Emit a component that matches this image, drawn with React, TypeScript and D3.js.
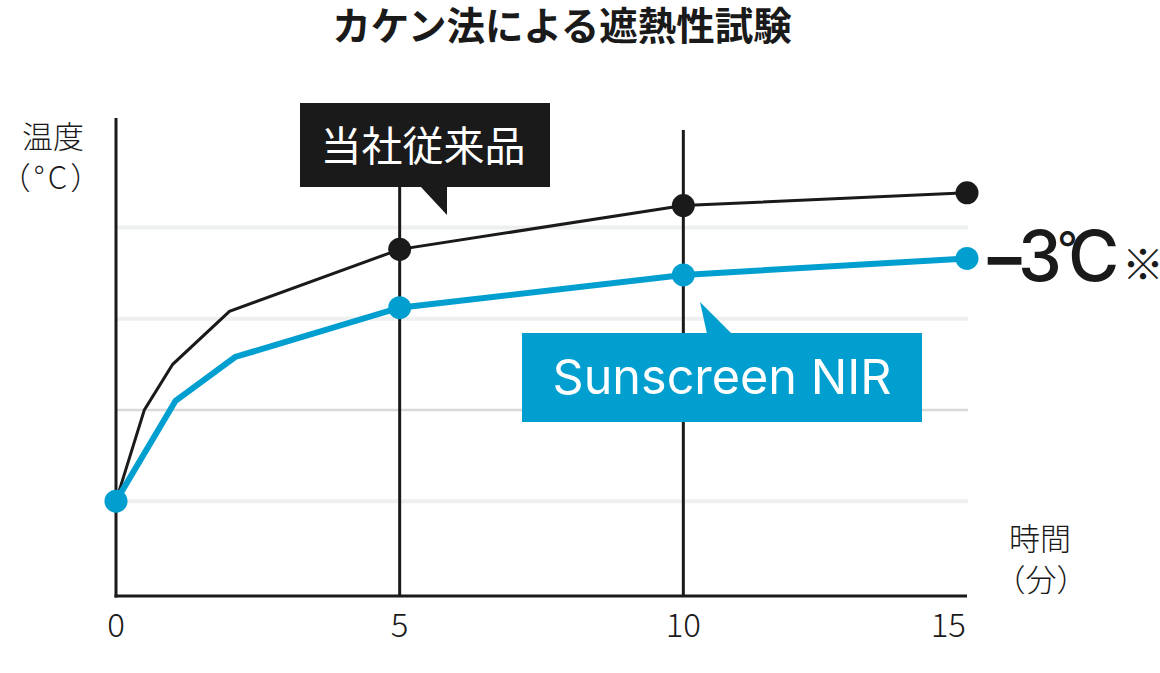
import React from "react";
import * as d3 from "d3";

// ---- data ----
const xTicks = [0, 5, 10, 15];
const xTickLabels = ["0", "5", "10", "15"];
const verticalGuides = [5, 10];
const gridTemps = [25, 30, 35, 40];
const darkGridTemp = 30;

const conventionalTime = [0, 0.5, 1, 2, 5, 10, 15];
const conventionalTemp = [25, 30, 32.5, 35.4, 38.8, 41.2, 41.9];
const conventionalMarkerTime = [5, 10, 15];

const nirTime = [0, 1.05, 2.1, 5, 10, 15];
const nirTemp = [25, 30.5, 32.9, 35.6, 37.4, 38.3];
const nirMarkerTime = [0, 5, 10, 15];

const title = "カケン法による遮熱性試験";
const seriesNames = ["当社従来品", "Sunscreen NIR"];

const BLACK = "#1a1a1a";
const BLUE = "#009fd0";
const JP = "'Noto Sans CJK JP', 'Noto Sans', sans-serif";
const LATIN = "Inter, 'Noto Sans', sans-serif";

export default function App() {
  const W = 1160;
  const H = 673;
  const x = d3.scaleLinear().domain([0, 15]).range([116, 967]);
  const y = d3.scaleLinear().domain([19.8, 46]).range([596, 118]);

  const blackPts = conventionalTime.map((t, i) => [t, conventionalTemp[i]] as [number, number]);
  const bluePts = nirTime.map((t, i) => [t, nirTemp[i]] as [number, number]);
  const line = d3
    .line<[number, number]>()
    .x((d) => x(d[0]))
    .y((d) => y(d[1]));

  const blackMarkers = blackPts.filter((p) => conventionalMarkerTime.includes(p[0]));
  const blueMarkers = bluePts.filter((p) => nirMarkerTime.includes(p[0]));

  const [x0, x1] = x.range();
  const [yBottom, yTop] = y.range();

  return (
    <svg
      width={W}
      height={H}
      style={{ position: "absolute", left: 0, top: 0, background: "#fff" }}
    >
      {/* title */}
      <text x={562} y={40} textAnchor="middle" fontFamily={JP} fontWeight={700} fontSize={38.5} fill={BLACK}>
        {title}
      </text>

      {/* gridlines */}
      {gridTemps.map((g) => (
        <line
          key={g}
          x1={x0}
          x2={x1 + 1}
          y1={y(g)}
          y2={y(g)}
          stroke={g === darkGridTemp ? "#d9d9d9" : "#eef0ef"}
          strokeWidth={g === darkGridTemp ? 2.5 : 4}
        />
      ))}

      {/* vertical guides */}
      {verticalGuides.map((t) => (
        <line key={t} x1={x(t)} x2={x(t)} y1={130} y2={yBottom} stroke={BLACK} strokeWidth={3} />
      ))}

      {/* axes */}
      <line x1={x0} x2={x0} y1={yTop} y2={yBottom + 1.5} stroke={BLACK} strokeWidth={3} />
      <line x1={x0 - 1.5} x2={x1} y1={yBottom} y2={yBottom} stroke={BLACK} strokeWidth={3} />

      {/* tick labels */}
      {xTicks.map((t, i) => (
        <text
          key={t}
          x={i === xTicks.length - 1 ? x(t) - 1 : x(t)}
          y={637}
          textAnchor={i === xTicks.length - 1 ? "end" : "middle"}
          fontFamily={JP}
          fontWeight={300}
          fontSize={33}
          fill={BLACK}
        >
          {xTickLabels[i]}
        </text>
      ))}

      {/* axis titles */}
      <text x={53} y={148} textAnchor="middle" fontFamily={JP} fontWeight={300} fontSize={31} fill={BLACK}>
        温度
      </text>
      <text x={52} y={189} textAnchor="middle" fontFamily={JP} fontWeight={300} fontSize={31} letterSpacing={3} fill={BLACK}>
        （°C）
      </text>
      <text x={1040} y={550} textAnchor="middle" fontFamily={JP} fontWeight={300} fontSize={31} fill={BLACK}>
        時間
      </text>
      <text x={1041} y={591} textAnchor="middle" fontFamily={JP} fontWeight={300} fontSize={31} fill={BLACK}>
        （分）
      </text>

      {/* series lines */}
      <path d={line(blackPts) || ""} fill="none" stroke={BLACK} strokeWidth={3} strokeLinejoin="miter" />
      <path d={line(bluePts) || ""} fill="none" stroke={BLUE} strokeWidth={6} strokeLinejoin="miter" />

      {blackMarkers.map((p) => (
        <circle key={"b" + p[0]} cx={x(p[0])} cy={y(p[1])} r={11.5} fill={BLACK} />
      ))}
      {blueMarkers.map((p) => (
        <circle key={"n" + p[0]} cx={x(p[0])} cy={y(p[1])} r={11.5} fill={BLUE} />
      ))}

      {/* callout: conventional */}
      <rect x={300} y={103} width={250} height={84} fill={BLACK} />
      <path d="M420,186 L447,186 L447,215 Z" fill={BLACK} />
      <text x={423} y={161} textAnchor="middle" fontFamily={JP} fontWeight={400} fontSize={41} fill="#fff">
        {seriesNames[0]}
      </text>

      {/* callout: NIR */}
      <rect x={522} y={333} width={400} height={89} fill={BLUE} />
      <path d="M700,302 L707,334 L732,334 Z" fill={BLUE} />
      <text x={722} y={394} textAnchor="middle" fontFamily={LATIN} fontWeight={400} fontSize={48.5} fill="#fff">
        {seriesNames[1]}
      </text>

      {/* difference annotation */}
      <text y={281} fontFamily={LATIN} fontWeight={500} fontSize={70} fill={BLACK}>
        <tspan x={981} fontWeight={600}>−</tspan>
        <tspan x={1018}>3</tspan>
        <tspan x={1057} y={265} fontSize={46} fontWeight={400}>°</tspan>
        <tspan x={1068} y={281}>C</tspan>
      </text>
      <text x={1143} y={280} textAnchor="middle" fontFamily={JP} fontWeight={400} fontSize={42} fill={BLACK}>
        ※
      </text>
    </svg>
  );
}
